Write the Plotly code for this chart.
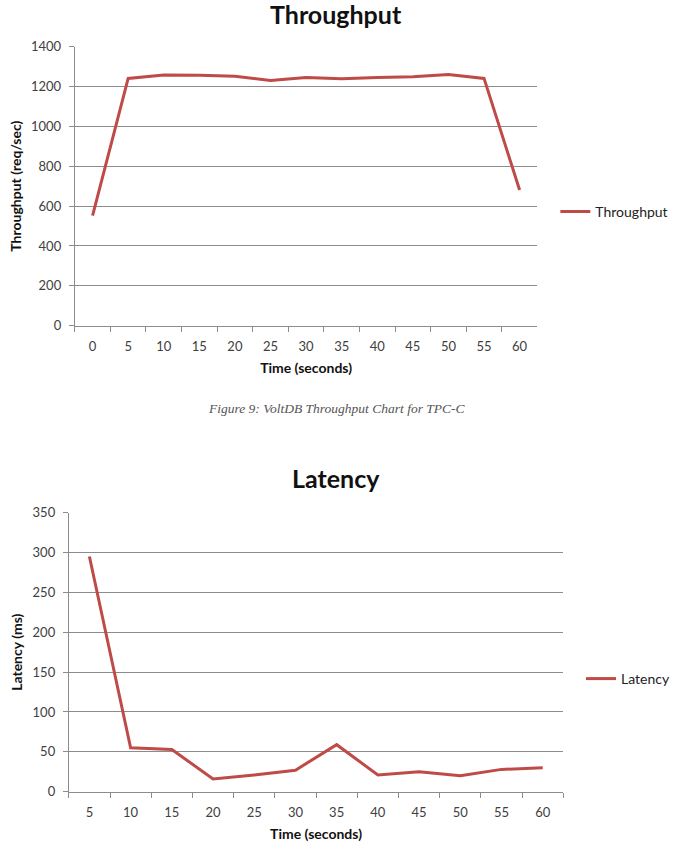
import plotly.graph_objects as go

# ---- data ----
tp_time = ["0", "5", "10", "15", "20", "25", "30", "35", "40", "45", "50", "55", "60"]
tp_values = [552, 1241, 1258, 1257, 1252, 1231, 1246, 1239, 1246, 1249, 1260, 1241, 681]

lat_time = ["5", "10", "15", "20", "25", "30", "35", "40", "45", "50", "55", "60"]
lat_values = [295, 55, 53, 16, 21, 27, 59, 21, 25, 20, 28, 30]

W, H = 675, 844
RED = "#BE4B48"
GRID = "#8C8C8C"
TICKC = "#404040"
FONT = "Lato"

def px_x(p):
    return p / W

def px_y(p):
    return 1 - p / H

fig = go.Figure()
fig.add_trace(go.Scatter(x=tp_time, y=tp_values, mode="lines", name="Throughput",
                         line=dict(color=RED, width=3), xaxis="x", yaxis="y", legend="legend"))
fig.add_trace(go.Scatter(x=lat_time, y=lat_values, mode="lines", name="Latency",
                         line=dict(color=RED, width=3), xaxis="x2", yaxis="y2", legend="legend2"))

common_x = dict(type="category", tickson="boundaries", ticks="outside", ticklen=5, tickcolor=GRID,
                showline=True, linecolor=GRID, linewidth=1, showgrid=False, zeroline=False,
                tickfont=dict(family=FONT, size=13, color=TICKC), ticklabelstandoff=9,
                fixedrange=True, automargin=False)
common_y = dict(ticks="outside", ticklen=5, tickcolor=GRID, showline=True, linecolor=GRID,
                linewidth=1, showgrid=True, gridcolor=GRID, gridwidth=1, zeroline=False,
                tickfont=dict(family=FONT, size=13, color=TICKC), ticklabelstandoff=5,
                fixedrange=True, automargin=False)
title_font = dict(family=FONT, size=14, color="#111111", weight="bold")

fig.update_layout(
    width=W, height=H, margin=dict(l=0, r=0, t=0, b=0),
    paper_bgcolor="white", plot_bgcolor="white",
    xaxis=dict(common_x, domain=[px_x(75), px_x(539)], anchor="y", range=[-0.5, 12.5],
               title=dict(text="Time (seconds)", font=title_font, standoff=9)),
    yaxis=dict(common_y, domain=[px_y(325.7), px_y(46.7)], anchor="x", range=[0, 1400], dtick=200,
               title=dict(text="Throughput (req/sec)", font=title_font, standoff=6)),
    xaxis2=dict(common_x, domain=[px_x(69), px_x(565)], anchor="y2", range=[-0.5, 11.5],
                title=dict(text="Time (seconds)", font=title_font, standoff=9)),
    yaxis2=dict(common_y, domain=[px_y(791.7), px_y(512.7)], anchor="x2", range=[0, 350], dtick=50,
                title=dict(text="Latency (ms)", font=title_font, standoff=6)),
    legend=dict(x=px_x(557), y=px_y(212), xanchor="left", yanchor="middle",
                font=dict(family=FONT, size=14, color="#222222"), bgcolor="rgba(0,0,0,0)",
                itemwidth=30),
    legend2=dict(x=px_x(583), y=px_y(679), xanchor="left", yanchor="middle",
                 font=dict(family=FONT, size=14, color="#222222"), bgcolor="rgba(0,0,0,0)",
                 itemwidth=30),
    showlegend=True,
    annotations=[
        dict(text="<b>Throughput</b>", x=px_x(337), y=px_y(14), xref="paper", yref="paper",
             showarrow=False, xanchor="center", yanchor="middle",
             font=dict(family=FONT, size=25, color="#111111")),
        dict(text="<b>Latency</b>", x=px_x(337), y=px_y(478), xref="paper", yref="paper",
             showarrow=False, xanchor="center", yanchor="middle",
             font=dict(family=FONT, size=25, color="#111111")),
        dict(text="<i>Figure 9: VoltDB Throughput Chart for TPC-C</i>", x=px_x(338), y=px_y(408),
             xref="paper", yref="paper", showarrow=False, xanchor="center", yanchor="middle",
             font=dict(family="Liberation Serif", size=13.5, color="#555555")),
    ],
)

fig.write_html("out.html")
